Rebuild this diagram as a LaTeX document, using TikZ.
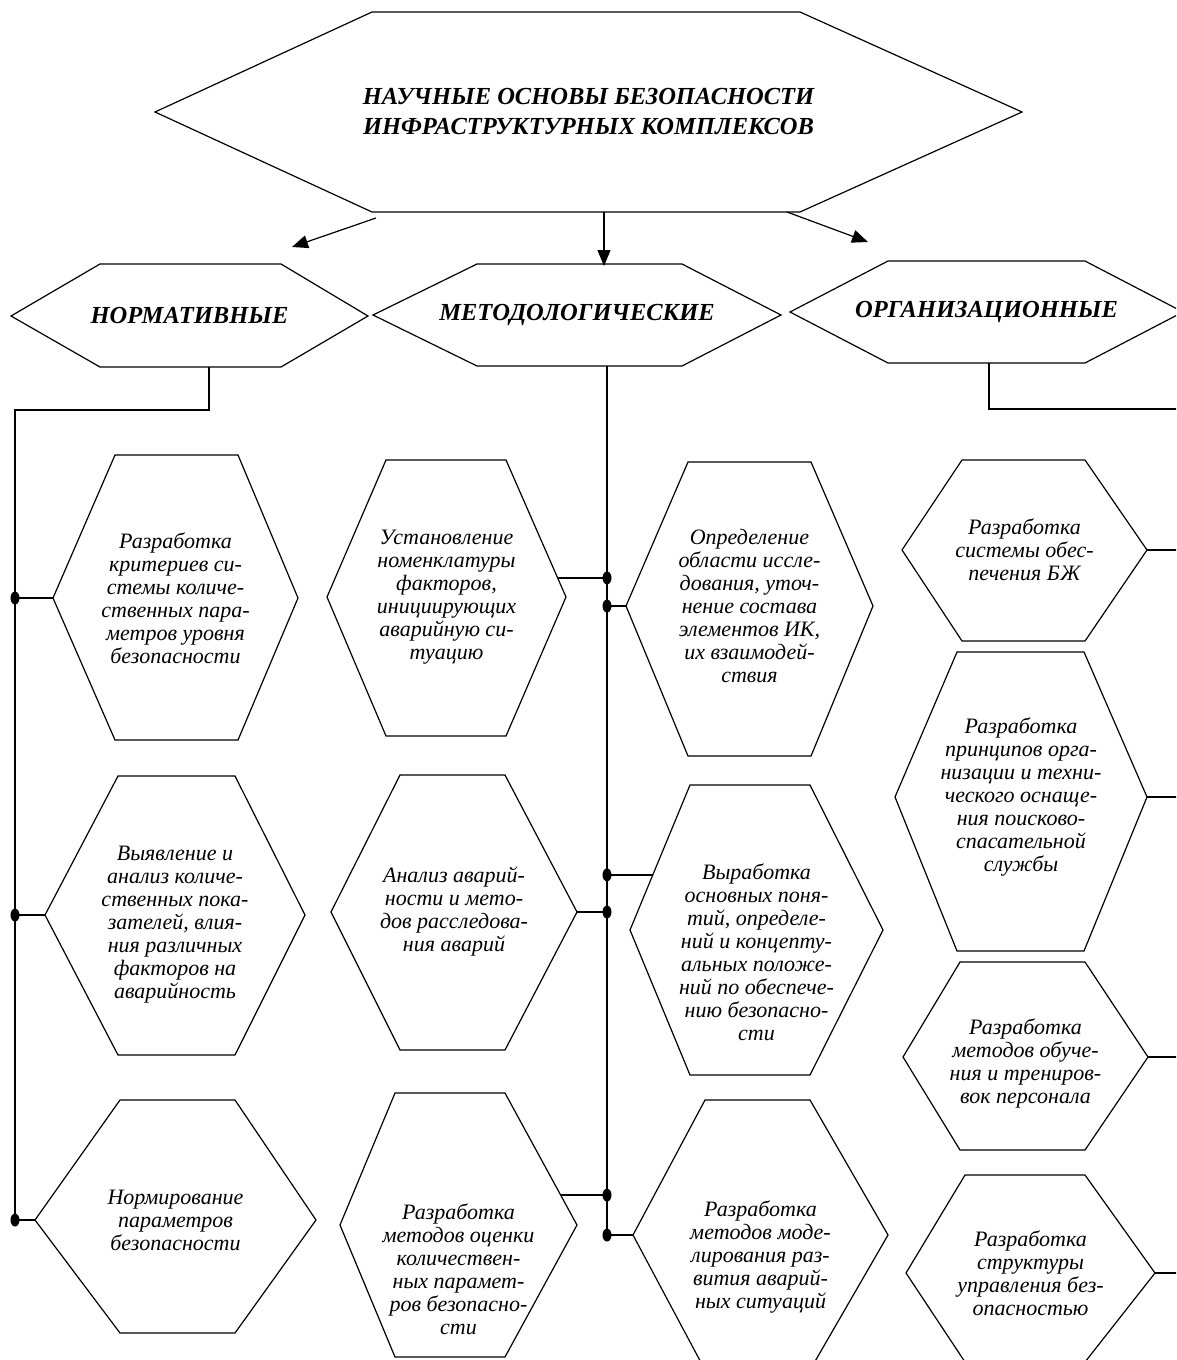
\documentclass[tikz,border=0pt]{standalone}
\usepackage{fontspec}
\setmainfont{Liberation Serif}
\usetikzlibrary{arrows.meta,calc}
\tikzset{
 hexline/.style={draw=black,line width=1.2pt,line join=miter},
 hextext/.style={align=center,font=\itshape\fontsize{22}{23}\selectfont,inner sep=0pt},
 headtext/.style={align=center,font=\bfseries\itshape\fontsize{24.5}{30}\selectfont,inner sep=0pt},
 conn/.style={draw=black,line width=1.2pt},
 arr/.style={conn,-{Triangle[length=16pt,width=13pt]}},
 jdot/.style={fill=black},
 hexdy/.store in=\hexdy, hexdy=0,
}
% #1 name, #2 left vertex x, #3 top-left x, #4 top-right x, #5 right vertex x,
% #6 top y, #7 vertex y, #8 bottom y, #9 text
\newcommand\hexshape[9]{%
 \coordinate (#1-l) at (#2,#7);
 \coordinate (#1-tl) at (#3,#6);
 \coordinate (#1-tr) at (#4,#6);
 \coordinate (#1-r) at (#5,#7);
 \coordinate (#1-br) at (#4,#8);
 \coordinate (#1-bl) at (#3,#8);
 \draw[hexline] (#1-l)--(#1-tl)--(#1-tr)--(#1-r)--(#1-br)--(#1-bl)--cycle;
 \node[hextext] (#1) at ({(#2+#5)/2},{#7+\hexdy}) {#9};
}
\newcommand\jdotat[1]{\fill[jdot] (#1) ellipse [x radius=4.5pt, y radius=6.5pt];}
\begin{document}
\begin{tikzpicture}[x=1pt,y=-1pt]
\useasboundingbox (0,0) rectangle (1176,1360);
\clip (0,0) rectangle (1176,1360);
% ---- top and level 2
\begin{scope}[hextext/.style=headtext]
\hexshape{top}{155}{372}{800}{1022}{12}{112}{212}{НАУЧНЫЕ ОСНОВЫ БЕЗОПАСНОСТИ\\ИНФРАСТРУКТУРНЫХ КОМПЛЕКСОВ}
\hexshape{norm}{11}{100}{281}{368}{264}{316}{367}{НОРМАТИВНЫЕ}
\hexshape{meth}{373}{477}{682}{781}{264}{315}{366}{МЕТОДОЛОГИЧЕСКИЕ}
\hexshape{org}{790}{888}{1085}{1183}{261}{312}{363}{ОРГАНИЗАЦИОННЫЕ}
\end{scope}
% ---- level 3
\hexshape{h1}{53}{115}{238}{298}{455}{598}{740}{Разработка\\критериев си-\\стемы количе-\\ственных пара-\\метров уровня\\безопасности}
\begin{scope}[hexdy=10]
\hexshape{h2}{45}{118}{235}{305}{776}{915}{1055}{Выявление и\\анализ количе-\\ственных пока-\\зателей, влия-\\ния различных\\факторов на\\аварийность}
\end{scope}
\hexshape{h3}{35}{120}{235}{316}{1100}{1220}{1333}{Нормирование\\параметров\\безопасности}
\hexshape{h4}{327}{386}{506}{566}{460}{597}{736}{Установление\\номенклатуры\\факторов,\\инициирующих\\аварийную си-\\туацию}
\hexshape{h5}{626}{688}{811}{873}{462}{606}{756}{Определение\\области иссле-\\дования, уточ-\\нение состава\\элементов ИК,\\их взаимодей-\\ствия}
\hexshape{h6}{331}{400}{505}{577}{775}{912}{1050}{Анализ аварий-\\ности и мето-\\дов расследова-\\ния аварий}
\begin{scope}[hexdy=22]
\hexshape{h7}{630}{690}{810}{883}{785}{930}{1075}{Выработка\\основных поня-\\тий, определе-\\ний и концепту-\\альных положе-\\ний по обеспече-\\нию безопасно-\\сти}
\hexshape{h9}{633}{705}{810}{888}{1100}{1235}{1370}{Разработка\\методов моде-\\лирования раз-\\вития аварий-\\ных ситуаций}
\end{scope}
\begin{scope}[hexdy=44]
\hexshape{h8}{340}{395}{505}{577}{1093}{1225}{1357}{Разработка\\методов оценки\\количествен-\\ных парамет-\\ров безопасно-\\сти}
\end{scope}
\hexshape{h10}{902}{962}{1085}{1147}{460}{550}{641}{Разработка\\системы обес-\\печения БЖ}
\hexshape{h11}{895}{957}{1084}{1147}{652}{797}{951}{Разработка\\принципов орга-\\низации и техни-\\ческого оснаще-\\ния поисково-\\спасательной\\службы}
\begin{scope}[hexdy=6]
\hexshape{h12}{903}{960}{1085}{1148}{962}{1057}{1150}{Разработка\\методов обуче-\\ния и трениров-\\вок персонала}
\end{scope}
\hexshape{h13}{906}{965}{1085}{1155}{1175}{1273}{1362}{Разработка\\структуры\\управления без-\\опасностью}
% ---- arrows from top
\coordinate (a1s) at (376,218); \coordinate (a1e) at (292,247);
\coordinate (a2s) at (604,212); \coordinate (a2e) at (604,266);
\coordinate (a3s) at (787,212); \coordinate (a3e) at (868,242);
\draw[arr] (a1s) -- (a1e);
\draw[arr] (a2s) -- (a2e);
\draw[arr] (a3s) -- (a3e);
% ---- left spine
\coordinate (nb) at (209,367);
\coordinate (nk) at (209,410);
\coordinate (lk) at (15,410);
\coordinate (lend) at (15,1220);
\draw[conn] (nb) -- (nk) -- (lk) -- (lend);
\foreach \h in {h1,h2,h3}{
 \draw[conn] (\h-l -| lk) -- (\h-l);
 \jdotat{\h-l -| lk}
}
% ---- middle spine
\coordinate (mb) at (607,366);
\coordinate (mend) at (607,1232);
\draw[conn] (mb) -- (mend);
\coordinate (c4) at ($(h4-tr)!0.861!(h4-r)$);
\draw[conn] (c4) -- (c4 -| mb); \jdotat{c4 -| mb}
\draw[conn] (h5-l -| mb) -- (h5-l); \jdotat{h5-l -| mb}
\draw[conn] (h6-r) -- (h6-r -| mb); \jdotat{h6-r -| mb}
\coordinate (c7) at ($(h7-tl)!0.62!(h7-l)$);
\draw[conn] (c7 -| mb) -- (c7); \jdotat{c7 -| mb}
\coordinate (c8) at ($(h8-tr)!0.773!(h8-r)$);
\draw[conn] (c8) -- (c8 -| mb); \jdotat{c8 -| mb}
\draw[conn] (h9-l -| mb) -- (h9-l); \jdotat{h9-l -| mb}
% ---- right spine
\coordinate (ob) at (989,363);
\coordinate (ok) at (989,409);
\coordinate (rk) at (1181,409);
\coordinate (rend) at (1181,1273);
\draw[conn] (ob) -- (ok) -- (rk) -- (rend);
\foreach \h in {h10,h11,h12,h13}{
 \draw[conn] (\h-r) -- (\h-r -| rk);
 \jdotat{\h-r -| rk}
}
\end{tikzpicture}
\end{document}
